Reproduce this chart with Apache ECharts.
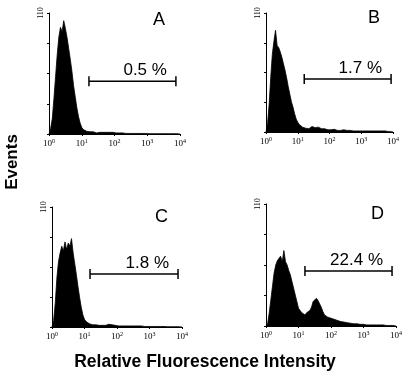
<!DOCTYPE html>
<html>
<head>
<meta charset="utf-8">
<script src="https://cdn.jsdelivr.net/npm/echarts@6/dist/echarts.min.js"></script>
<style>
  html, body { margin: 0; padding: 0; background: #fff; }
  #chart { width: 406px; height: 374px; }
</style>
</head>
<body>
<div id="chart"></div>
<script>
// histogram counts, one value per 0.05 decade from 10^0 to 10^4
var countsA = [0,5,14,32,52,72,88,97,93,103,96,88,78,68,57,44,34,24,16,10,
  6,4,3,2.5,2,2,1.5,2,1.5,1,2,1.5,2,1.5,2,1.5,2,1.5,1,1.5,
  1,1,0.5,1,0.5,1,0.5,0.5,1,0.5,0.5,0.5,0.5,0.5,0.5,0.5,0.5,0.5,0.5,0.5,
  0.5,0.3,0.3,0.3,0.3,0.3,0.3,0.3,0.3,0.3,0.3,0.3,0.3,0.3,0.3,0.3,0.3,0.3,0.3,0.3,0];
var countsB = [0,8,26,51,72,84,94,80,78,74,69,63,57,50,42,35,28,23,17,12,
  9,7,6,4.5,4,3.5,4,3,4,5,3.5,4,3,4.5,3,3,2.5,3,2.5,2,
  2.5,2,2,2.5,2,1.5,2,1.5,1.5,2,1.5,1.5,1,1.5,1,1,1.5,1,1,1,
  1,1,1,1,1,1,1,1,1,1,1,1,1,1,1,1,1,0.5,0.5,0.5,0];
var countsC = [0,6,22,45,60,68,74,70,78,71,77,74,81,68,58,48,37,27,18,11,
  7,5,3.5,3,2.5,2,2.5,2,2,1.5,2,1.5,2,1.5,2,2.5,1.5,2,1.5,1.5,
  1.5,1,1.5,1,1.5,1,1,1,1.5,1,1,1,0.5,1,0.5,1,0.5,0.5,0.5,0.5,
  0.5,0.5,0.5,0.5,0.5,0.5,0.5,0.5,0.5,0.5,0.3,0.3,0.3,0.3,0.3,0.3,0.3,0.3,0.3,0.3,0];
var countsD = [0,2,12,24,36,48,55,59,61,63,58,68,58,55,50,46,40,34,28,22,
  16,14,12,13,10,12,13,14,17,22,23,25,23,22,17,13,10,8.5,8,7.5,
  7,6.5,6,5.5,5,4.5,4,4,3.5,3.5,3,3,2.5,2.5,2,2,2,1.5,1.5,1.5,
  1.5,1,1,1,1,1,1,1,1,1,1,1,1,0.5,0.5,0.5,0.5,0.5,0.5,0.5,0];

var panelLetters = ['A', 'B', 'C', 'D'];
var gatePercents = ['0.5 %', '1.7 %', '1.8 %', '22.4 %'];
var gateLow = [16.6, 16, 14.8, 15.8];
var gateHigh = [7500, 8700, 7550, 7550];
var gateLevel = [48, 49, 48.5, 49.5];

var binStep = 0.05;
function toPairs(counts) {
  return counts.map(function (c, i) { return [Math.pow(10, i * binStep), c]; });
}

var grids = [
  { left: 49, top: 13, width: 131, height: 121 },
  { left: 266, top: 13, width: 127, height: 119 },
  { left: 52, top: 207, width: 130, height: 120 },
  { left: 266, top: 204, width: 130, height: 122 }
];
var letterPos = [[153, 11], [368, 9], [155, 208], [371, 205]];
var allCounts = [countsA, countsB, countsC, countsD];

var xAxes = [], yAxes = [], series = [], titles = [];
for (var k = 0; k < 4; k++) {
  xAxes.push({
    type: 'log', logBase: 10, min: 1, max: 10000, gridIndex: k,
    axisLine: { lineStyle: { color: '#000', width: 1 } },
    axisTick: { show: true, length: 2, lineStyle: { color: '#000' } },
    minorTick: { show: false },
    splitLine: { show: false },
    axisLabel: {
      margin: 4, color: '#000', fontFamily: 'Liberation Serif', fontSize: 9,
      showMinLabel: true, showMaxLabel: true,
      formatter: function (v) { return '10{s|' + Math.round(Math.log10(v)) + '}'; },
      rich: { s: { fontSize: 6, fontFamily: 'Liberation Serif', verticalAlign: 'top', padding: [0, 0, 5, 0] } }
    }
  });
  yAxes.push({
    type: 'value', min: 0, max: 110, interval: 27.5, gridIndex: k,
    axisLine: { show: true, lineStyle: { color: '#000', width: 1 } },
    axisTick: { show: true, length: 2, lineStyle: { color: '#000' } },
    splitLine: { show: false },
    axisLabel: {
      rotate: 90, margin: 4, color: '#000', fontFamily: 'Liberation Serif', fontSize: 8,
      formatter: function (v) { return v === 110 ? '110' : ''; }
    }
  });
  series.push({
    type: 'line', xAxisIndex: k, yAxisIndex: k,
    data: toPairs(allCounts[k]),
    showSymbol: false, silent: true,
    lineStyle: { color: '#000', width: 0.8 },
    areaStyle: { color: '#000', opacity: 1 }
  });
  series.push({
    type: 'custom', xAxisIndex: k, yAxisIndex: k, silent: true,
    data: [[gateLow[k], gateHigh[k], gateLevel[k], gatePercents[k]]],
    encode: { x: [0, 1], y: 2 },
    renderItem: function (params, api) {
      var p1 = api.coord([api.value(0), api.value(2)]);
      var p2 = api.coord([api.value(1), api.value(2)]);
      var ln = { stroke: '#000', lineWidth: 1.5 };
      return {
        type: 'group',
        children: [
          { type: 'line', shape: { x1: p1[0], y1: p1[1], x2: p2[0], y2: p2[1] }, style: ln },
          { type: 'line', shape: { x1: p1[0], y1: p1[1] - 5, x2: p1[0], y2: p1[1] + 5 }, style: ln },
          { type: 'line', shape: { x1: p2[0], y1: p2[1] - 5, x2: p2[0], y2: p2[1] + 5 }, style: ln },
          { type: 'text', x: p2[0] - 9, y: p1[1] - 2,
            style: { text: api.value(3), fill: '#000', fontSize: 17, fontFamily: 'Liberation Sans',
                     align: 'right', verticalAlign: 'bottom' } }
        ]
      };
    }
  });
  titles.push({
    text: panelLetters[k], left: letterPos[k][0], top: letterPos[k][1], padding: 0,
    textStyle: { fontSize: 18, fontWeight: 'normal', fontFamily: 'Liberation Sans', color: '#000' }
  });
}

var chart = echarts.init(document.getElementById('chart'));
chart.setOption({
  animation: false,
  backgroundColor: '#fff',
  title: titles,
  grid: grids,
  xAxis: xAxes,
  yAxis: yAxes,
  series: series,
  graphic: [
    { type: 'text', x: 12, y: 162, rotation: Math.PI / 2,
      style: { text: 'Events', fontSize: 17, fontWeight: 'bold', fontFamily: 'Liberation Sans',
               fill: '#000', align: 'center', verticalAlign: 'middle' } },
    { type: 'text', x: 205, y: 362,
      style: { text: 'Relative Fluorescence Intensity', fontSize: 17.5, fontWeight: 'bold',
               fontFamily: 'Liberation Sans', fill: '#000', align: 'center', verticalAlign: 'middle' } }
  ]
});
</script>
</body>
</html>
